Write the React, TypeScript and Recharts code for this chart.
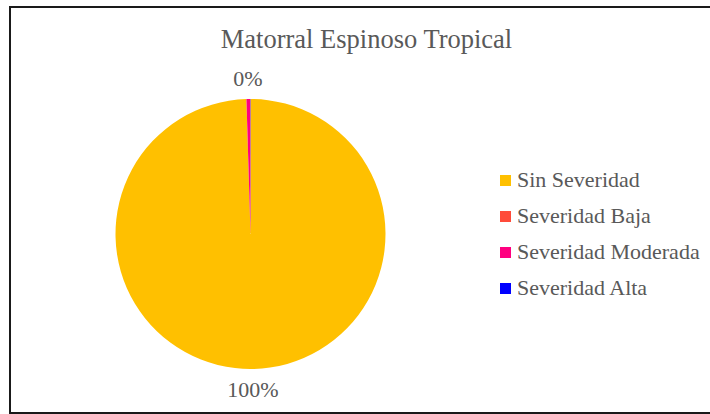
import React from "react";
import { PieChart, Pie, Cell, Legend } from "recharts";

// Severity classes and their share of the area (%)
const categories = ["Sin Severidad", "Severidad Baja", "Severidad Moderada", "Severidad Alta"];
const shares = [99.52, 0, 0.45, 0.03];
const colors = ["#FFC000", "#FF4B3A", "#FF0080", "#0000FF"];

const data = categories.map((name, i) => ({ name, value: shares[i] }));

const SERIF = '"Liberation Serif", "DejaVu Serif", "Noto Serif", Times, serif';
const TEXT = "#595959";
const RADIAN = Math.PI / 180;

const renderLabel = (props: any) => {
  const { cx, cy, midAngle, outerRadius, percent, value } = props;
  if (value < 0.1) return null;
  const r = outerRadius + 21;
  const x = cx + r * Math.cos(-midAngle * RADIAN);
  const y = cy + r * Math.sin(-midAngle * RADIAN);
  return (
    <text
      x={x}
      y={y}
      textAnchor="middle"
      dominantBaseline="central"
      fill={TEXT}
      style={{ fontFamily: SERIF, fontSize: 22 }}
    >
      {`${Math.round(percent * 100)}%`}
    </text>
  );
};

const renderLegend = (props: any) => {
  const payload = [...(props.payload || [])].sort(
    (a: any, b: any) => categories.indexOf(a.value) - categories.indexOf(b.value)
  );
  return (
    <div style={{ fontFamily: SERIF, fontSize: 22, color: TEXT }}>
      {payload.map((entry: any, i: number) => (
        <div
          key={i}
          style={{ display: "flex", alignItems: "center", height: 36, whiteSpace: "nowrap" }}
        >
          <span
            style={{
              display: "inline-block",
              width: 11,
              height: 11,
              background: entry.color,
              marginRight: 6.5,
            }}
          />
          <span>{entry.value}</span>
        </div>
      ))}
    </div>
  );
};

export default function App() {
  return (
    <div
      style={{
        position: "absolute",
        left: 0,
        top: 0,
        width: 710,
        height: 414,
        background: "#fff",
        overflow: "hidden",
      }}
    >
      <div
        style={{
          position: "absolute",
          left: 9,
          top: 6,
          width: 712,
          height: 408,
          boxSizing: "border-box",
          border: "2px solid #1a1a1a",
        }}
      />
      <div
        style={{
          position: "absolute",
          left: 0,
          top: 26,
          width: 733,
          textAlign: "center",
          fontFamily: SERIF,
          fontSize: 26.5,
          lineHeight: "26.5px",
          color: TEXT,
          whiteSpace: "pre",
        }}
      >
        Matorral Espinoso Tropical
      </div>
      <div style={{ position: "absolute", left: 0, top: 0 }}>
        <PieChart width={710} height={414} margin={{ top: 0, right: 0, bottom: 0, left: 0 }}>
          <Pie
            data={data}
            dataKey="value"
            nameKey="name"
            cx={250.5}
            cy={234}
            outerRadius={135}
            startAngle={90}
            endAngle={-270}
            stroke="none"
            labelLine={false}
            label={renderLabel}
            isAnimationActive={false}
          >
            {data.map((d, i) => (
              <Cell key={d.name} fill={colors[i]} />
            ))}
          </Pie>
          <Legend
            layout="vertical"
            content={renderLegend}
            wrapperStyle={{ position: "absolute", left: 499.5, top: 162, width: 211 }}
          />
        </PieChart>
      </div>
    </div>
  );
}
